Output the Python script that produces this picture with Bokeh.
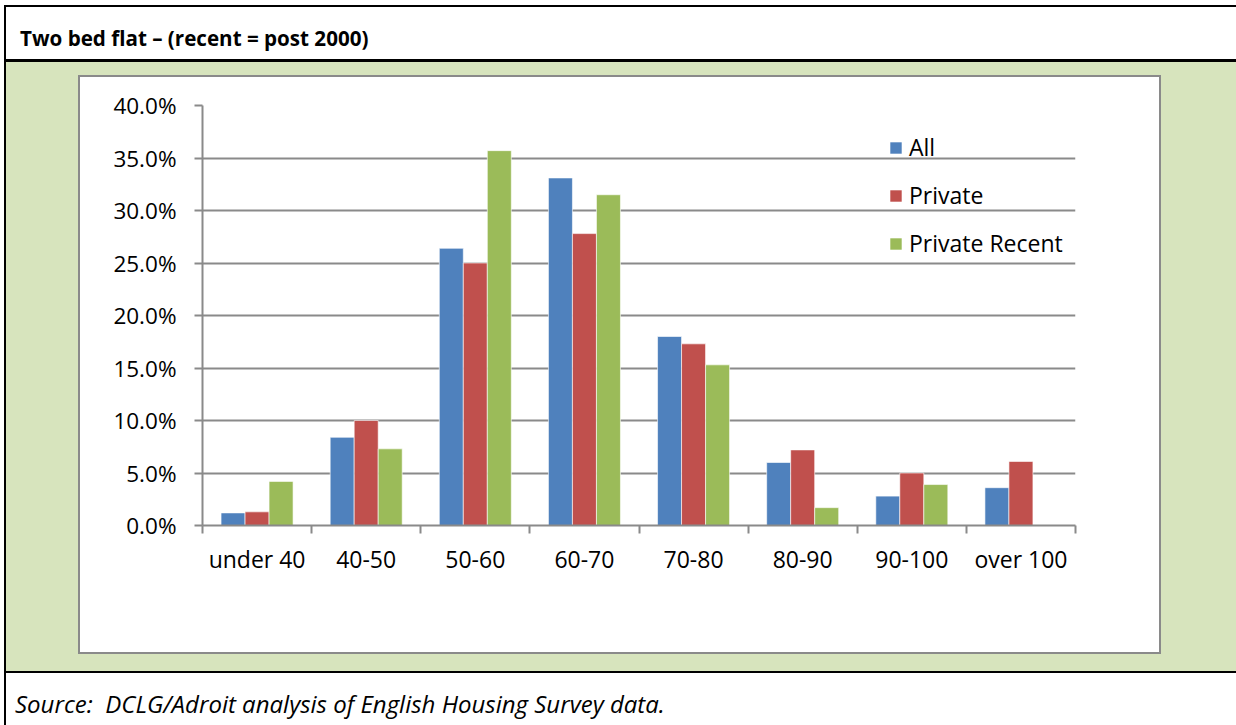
import numpy as np
from bokeh.plotting import figure
from bokeh.layouts import column
from bokeh.models import (Range1d, LinearAxis, FixedTicker, PrintfTickFormatter, Div,
                          Legend, LegendItem, ColumnDataSource, Grid, CustomJSTickFormatter)
from bokeh.transform import dodge
from bokeh.embed import file_html
from bokeh.resources import INLINE

# ---------------- data ----------------
categories = ["under 40", "40-50", "50-60", "60-70", "70-80", "80-90", "90-100", "over 100"]
series_names = ["All", "Private", "Private Recent"]
all_vals = [1.2, 8.4, 26.4, 33.1, 18.0, 6.0, 2.8, 3.6]
private_vals = [1.3, 10.0, 25.0, 27.8, 17.3, 7.2, 5.0, 6.1]
recent_vals = [4.2, 7.3, 35.7, 31.5, 15.3, 1.7, 3.9, 0.0]
y_ticks = [0, 5, 10, 15, 20, 25, 30, 35, 40]
title_text = "Two bed flat \u2013 (recent = post 2000)"
source_text = "Source:&nbsp; DCLG/Adroit analysis of English Housing Survey data."

# ---------------- style ----------------
BLUE, RED, GREEN = "#4f81bd", "#c0504d", "#9bbb59"
BG_GREEN = "#d7e4bd"
GREY = "#8a8a8a"
FONT = "Open Sans"

W = 1236
HEAD_H, MID_H, FOOT_H = 62, 609, 54
FL, FR, FT, FB = 202, 1075, 43, 463   # plot frame inside the middle block
YMAX = 40
NC = len(categories)


def rects(specs):
    """CSS background layers drawing solid rectangles: (color, x, y, w, h)."""
    return {
        "background-image": ", ".join(f"linear-gradient({c},{c})" for c, *_ in specs),
        "background-position": ", ".join(f"{x}px {y}px" for _, x, y, _w, _h in specs),
        "background-size": ", ".join(f"{w}px {h}px" for *_, w, h in specs),
        "background-repeat": "no-repeat",
        "background-color": "white",
    }


# ---------------- header / footer (HTML) ----------------
header_styles = rects([("#000000", 4, 5, 1232, 2), ("#000000", 4, 5, 2, 57),
                       ("#000000", 4, 59, 1232, 3)])
footer_styles = rects([("#000000", 4, 0, 1232, 2), ("#000000", 4, 0, 2, FOOT_H)])

header = Div(text=(f'<div style="padding:24px 0 0 20px;font-family:\'{FONT}\';font-weight:bold;'
                   f'font-size:20.6px;line-height:normal;white-space:nowrap;color:black;">'
                   f'{title_text}</div>'),
             width=W, height=HEAD_H, margin=(0, 0, 0, 0), styles=header_styles)
footer = Div(text=(f'<div style="padding:16px 0 0 15px;font-family:\'{FONT}\';font-style:italic;'
                   f'font-size:24px;line-height:normal;white-space:nowrap;color:black;">'
                   f'{source_text}</div>'),
             width=W, height=FOOT_H, margin=(0, 0, 0, 0), styles=footer_styles)

# ---------------- chart ----------------
mid_styles = rects([("#ffffff", 80, 15, 1079, 575), (GREY, 78, 13, 1083, 579),
                    ("#000000", 4, 0, 2, MID_H), (BG_GREEN, 6, 0, 1230, MID_H)])

p = figure(width=W, height=MID_H, x_range=Range1d(0, NC), y_range=Range1d(0, YMAX),
           min_border_left=FL, min_border_right=W - FR, min_border_top=FT,
           min_border_bottom=MID_H - FB, output_backend="svg", toolbar_location=None,
           x_axis_location=None, y_axis_location=None, styles=mid_styles,
           margin=(0, 0, 0, 0))
p.border_fill_color = None
p.background_fill_color = "white"
p.outline_line_color = None
p.xgrid.visible = False
p.ygrid.visible = False

grid = Grid(dimension=1, ticker=FixedTicker(ticks=y_ticks), grid_line_color=GREY,
            grid_line_width=2)
p.add_layout(grid)

yaxis = LinearAxis(ticker=FixedTicker(ticks=y_ticks),
                   formatter=PrintfTickFormatter(format="%.1f%%"),
                   axis_line_color=GREY, axis_line_width=2,
                   major_tick_line_color=GREY, major_tick_line_width=2,
                   major_tick_out=8, major_tick_in=0, minor_tick_line_color=None,
                   major_label_text_font=FONT, major_label_text_font_size="22.5px",
                   major_label_text_color="black", major_label_standoff=18)
p.add_layout(yaxis, "left")

xticks_axis = LinearAxis(ticker=FixedTicker(ticks=list(range(NC + 1))),
                         formatter=CustomJSTickFormatter(code="return ''"),
                         major_label_text_font_size="1px", major_label_standoff=0,
                         axis_line_color=GREY, axis_line_width=2,
                         major_tick_line_color=GREY, major_tick_line_width=2,
                         major_tick_out=8, major_tick_in=0, minor_tick_line_color=None)
p.add_layout(xticks_axis, "below")

centers = (np.arange(NC) + 0.5).tolist()
xlabel_axis = LinearAxis(ticker=FixedTicker(ticks=centers),
                         formatter=CustomJSTickFormatter(args=dict(cats=categories),
                                                         code="return cats[Math.floor(tick)]"),
                         axis_line_color=None, major_tick_line_color=None,
                         minor_tick_line_color=None,
                         major_label_text_font=FONT, major_label_text_font_size="23px",
                         major_label_text_color="black", major_label_standoff=3)
p.add_layout(xlabel_axis, "below")

source = ColumnDataSource(dict(x=centers, cat=categories, all=all_vals,
                               private=private_vals, recent=recent_vals))
bar_w = 0.22
renderers = []
for key, color, off in [("all", BLUE, -bar_w), ("private", RED, 0.0), ("recent", GREEN, bar_w)]:
    r = p.vbar(x=dodge("x", off), top=key, width=bar_w, source=source,
               fill_color=color, line_color="white", line_width=1, line_alpha=0.6)
    renderers.append(r)

legend = Legend(items=[LegendItem(label=n, renderers=[r]) for n, r in zip(series_names, renderers)],
                location=(686, 266), orientation="vertical", padding=0, margin=0,
                spacing=16, glyph_width=15, glyph_height=15, label_standoff=6,
                label_text_font=FONT, label_text_font_size="23px",
                label_text_color="black", border_line_color=None,
                background_fill_alpha=0)
p.add_layout(legend)

layout = column(header, p, footer, spacing=0, margin=(0, 0, 0, 0))
open("out.html", "w").write(file_html(layout, INLINE))
